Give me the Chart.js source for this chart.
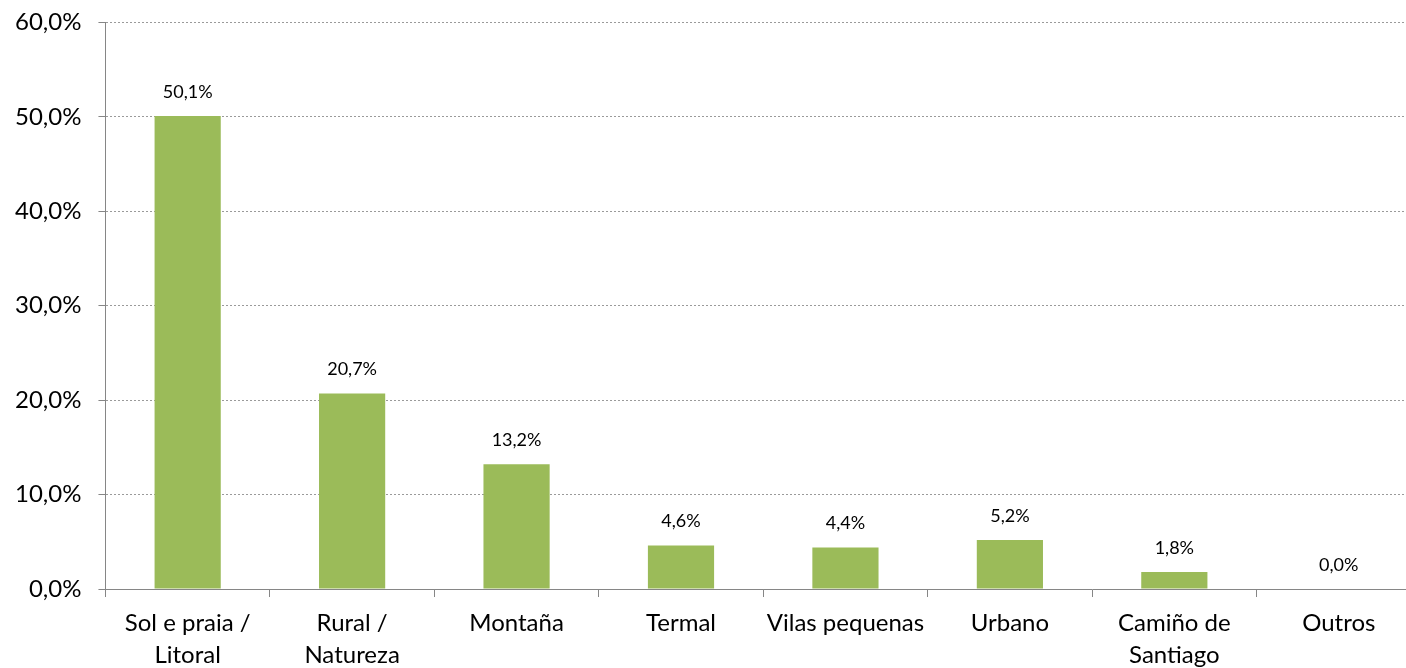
<!DOCTYPE html>
<html>
<head>
<meta charset="utf-8">
<script src="https://cdn.jsdelivr.net/npm/chart.js@4/dist/chart.umd.min.js"></script>
<style>
  html, body { margin: 0; padding: 0; background: #fff; overflow: hidden; }
  #wrap { width: 1424px; height: 690px; margin-top: -9px; margin-left: -2px; }
</style>
</head>
<body>
<div id="wrap"><canvas id="chart"></canvas></div>
<script>
// categories and shares (%)
const categories = [
  ["Sol e praia /", "Litoral"],
  ["Rural /", "Natureza"],
  "Montaña",
  "Termal",
  "Vilas pequenas",
  "Urbano",
  ["Camiño de", "Santiago"],
  "Outros"
];
const shares = [50.1, 20.7, 13.2, 4.6, 4.4, 5.2, 1.8, 0.0];
const yTicks = [0, 10, 20, 30, 40, 50, 60];

const fontFamily = "Lato, 'Open Sans', sans-serif";
const fmt = (v) => v.toFixed(1).replace(".", ",") + "%";

// draw value labels above bars
const valueLabels = {
  id: "valueLabels",
  afterDatasetsDraw(chart) {
    const ctx = chart.ctx;
    const meta = chart.getDatasetMeta(0);
    ctx.save();
    ctx.font = "18px " + fontFamily;
    ctx.fillStyle = "#000";
    ctx.textAlign = "center";
    ctx.textBaseline = "middle";
    meta.data.forEach((bar, i) => {
      ctx.fillText(fmt(shares[i]), bar.x, bar.y - 24);
    });
    ctx.restore();
  }
};

new Chart(document.getElementById("chart"), {
  type: "bar",
  data: {
    labels: categories,
    datasets: [
      {
        data: shares,
        backgroundColor: "#9BBB59",
        barPercentage: 0.805,
        categoryPercentage: 0.5
      }
    ]
  },
  options: {
    responsive: true,
    maintainAspectRatio: false,
    animation: false,
    layout: { padding: { top: 0, right: 1, left: 0, bottom: 0 } },
    plugins: { legend: { display: false }, tooltip: { enabled: false } },
    scales: {
      x: {
        grid: {
          offset: true,
          drawOnChartArea: false,
          drawTicks: true,
          tickLength: 8,
          tickColor: "#868686"
        },
        border: { color: "#868686", width: 1 },
        ticks: {
          color: "#000",
          padding: 10,
          maxRotation: 0,
          autoSkip: false,
          font: { family: fontFamily, size: 24, lineHeight: 1.333 }
        }
      },
      y: {
        min: 0,
        max: 60,
        afterBuildTicks: (axis) => {
          axis.ticks = yTicks.map((v) => ({ value: v }));
        },
        grid: {
          color: "#9a9a9a",
          lineWidth: 1,
          drawTicks: true,
          tickLength: 7,
          tickColor: "#868686",
          tickBorderDash: []
        },
        border: { color: "#868686", width: 1, dash: [2, 2] },
        ticks: {
          color: "#000",
          padding: 17,
          font: { family: fontFamily, size: 24 },
          callback: (v) => fmt(v)
        }
      }
    }
  },
  plugins: [valueLabels]
});
</script>
</body>
</html>
